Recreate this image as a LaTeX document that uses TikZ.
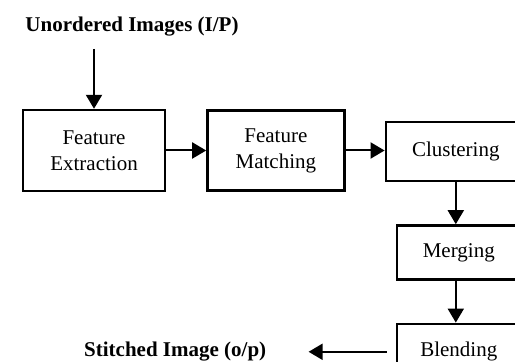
\documentclass[tikz,border=0pt]{standalone}
\usepackage{fontspec}
\setmainfont{Liberation Serif}
\usetikzlibrary{arrows.meta,positioning}

\begin{document}
\begin{tikzpicture}[
  stage/.style={draw,line width=1.2pt,align=center,inner sep=0pt,
                font=\fontsize{10.5}{13}\selectfont},
  io/.style={inner sep=0pt,font=\fontsize{10.5}{13}\selectfont\bfseries},
  flow/.style={->,line width=1pt},
  >={Triangle[length=7pt,width=8pt]}]
\useasboundingbox (0,0) rectangle (257.5pt,-181pt);
\clip (0,0) rectangle (257.5pt,-181pt);
\node[io] (in) at (66pt,-13.5pt) {Unordered Images (I/P)};
\node[stage,minimum width=71pt,minimum height=40.5pt] (fe) at (47pt,-75.25pt) {Feature\\Extraction};
\node[stage,minimum width=68.5pt,minimum height=40pt,right=20pt of fe] (fm) {Feature\\Matching};
\node[stage,minimum width=70pt,minimum height=29.5pt,right=19.5pt of fm,yshift=-0.5pt] (cl) {Clustering};
\node[stage,minimum width=62pt,minimum height=27pt,below=21pt of cl.south west,anchor=north west,xshift=5.5pt] (mg) {Merging};
\node[stage,minimum width=62pt,minimum height=28pt,below=21pt of mg] (bl) {Blending};
\node[io,left=64.5pt of bl] (out) {Stitched Image (o/p)};
\draw[flow,shorten <=6pt] (in.south -| fe.north) -- (fe.north);
\draw[flow] (fe) -- (fm);
\draw[flow] (fm.east) -- (fm.east -| cl.west);
\draw[flow] (cl.south) -- (cl.south |- mg.north);
\draw[flow] (mg.south -| cl.south) -- (bl.north -| cl.south);
\draw[flow,shorten <=4.5pt,shorten >=21pt] (bl.west) -- (out.east);
\end{tikzpicture}
\end{document}
